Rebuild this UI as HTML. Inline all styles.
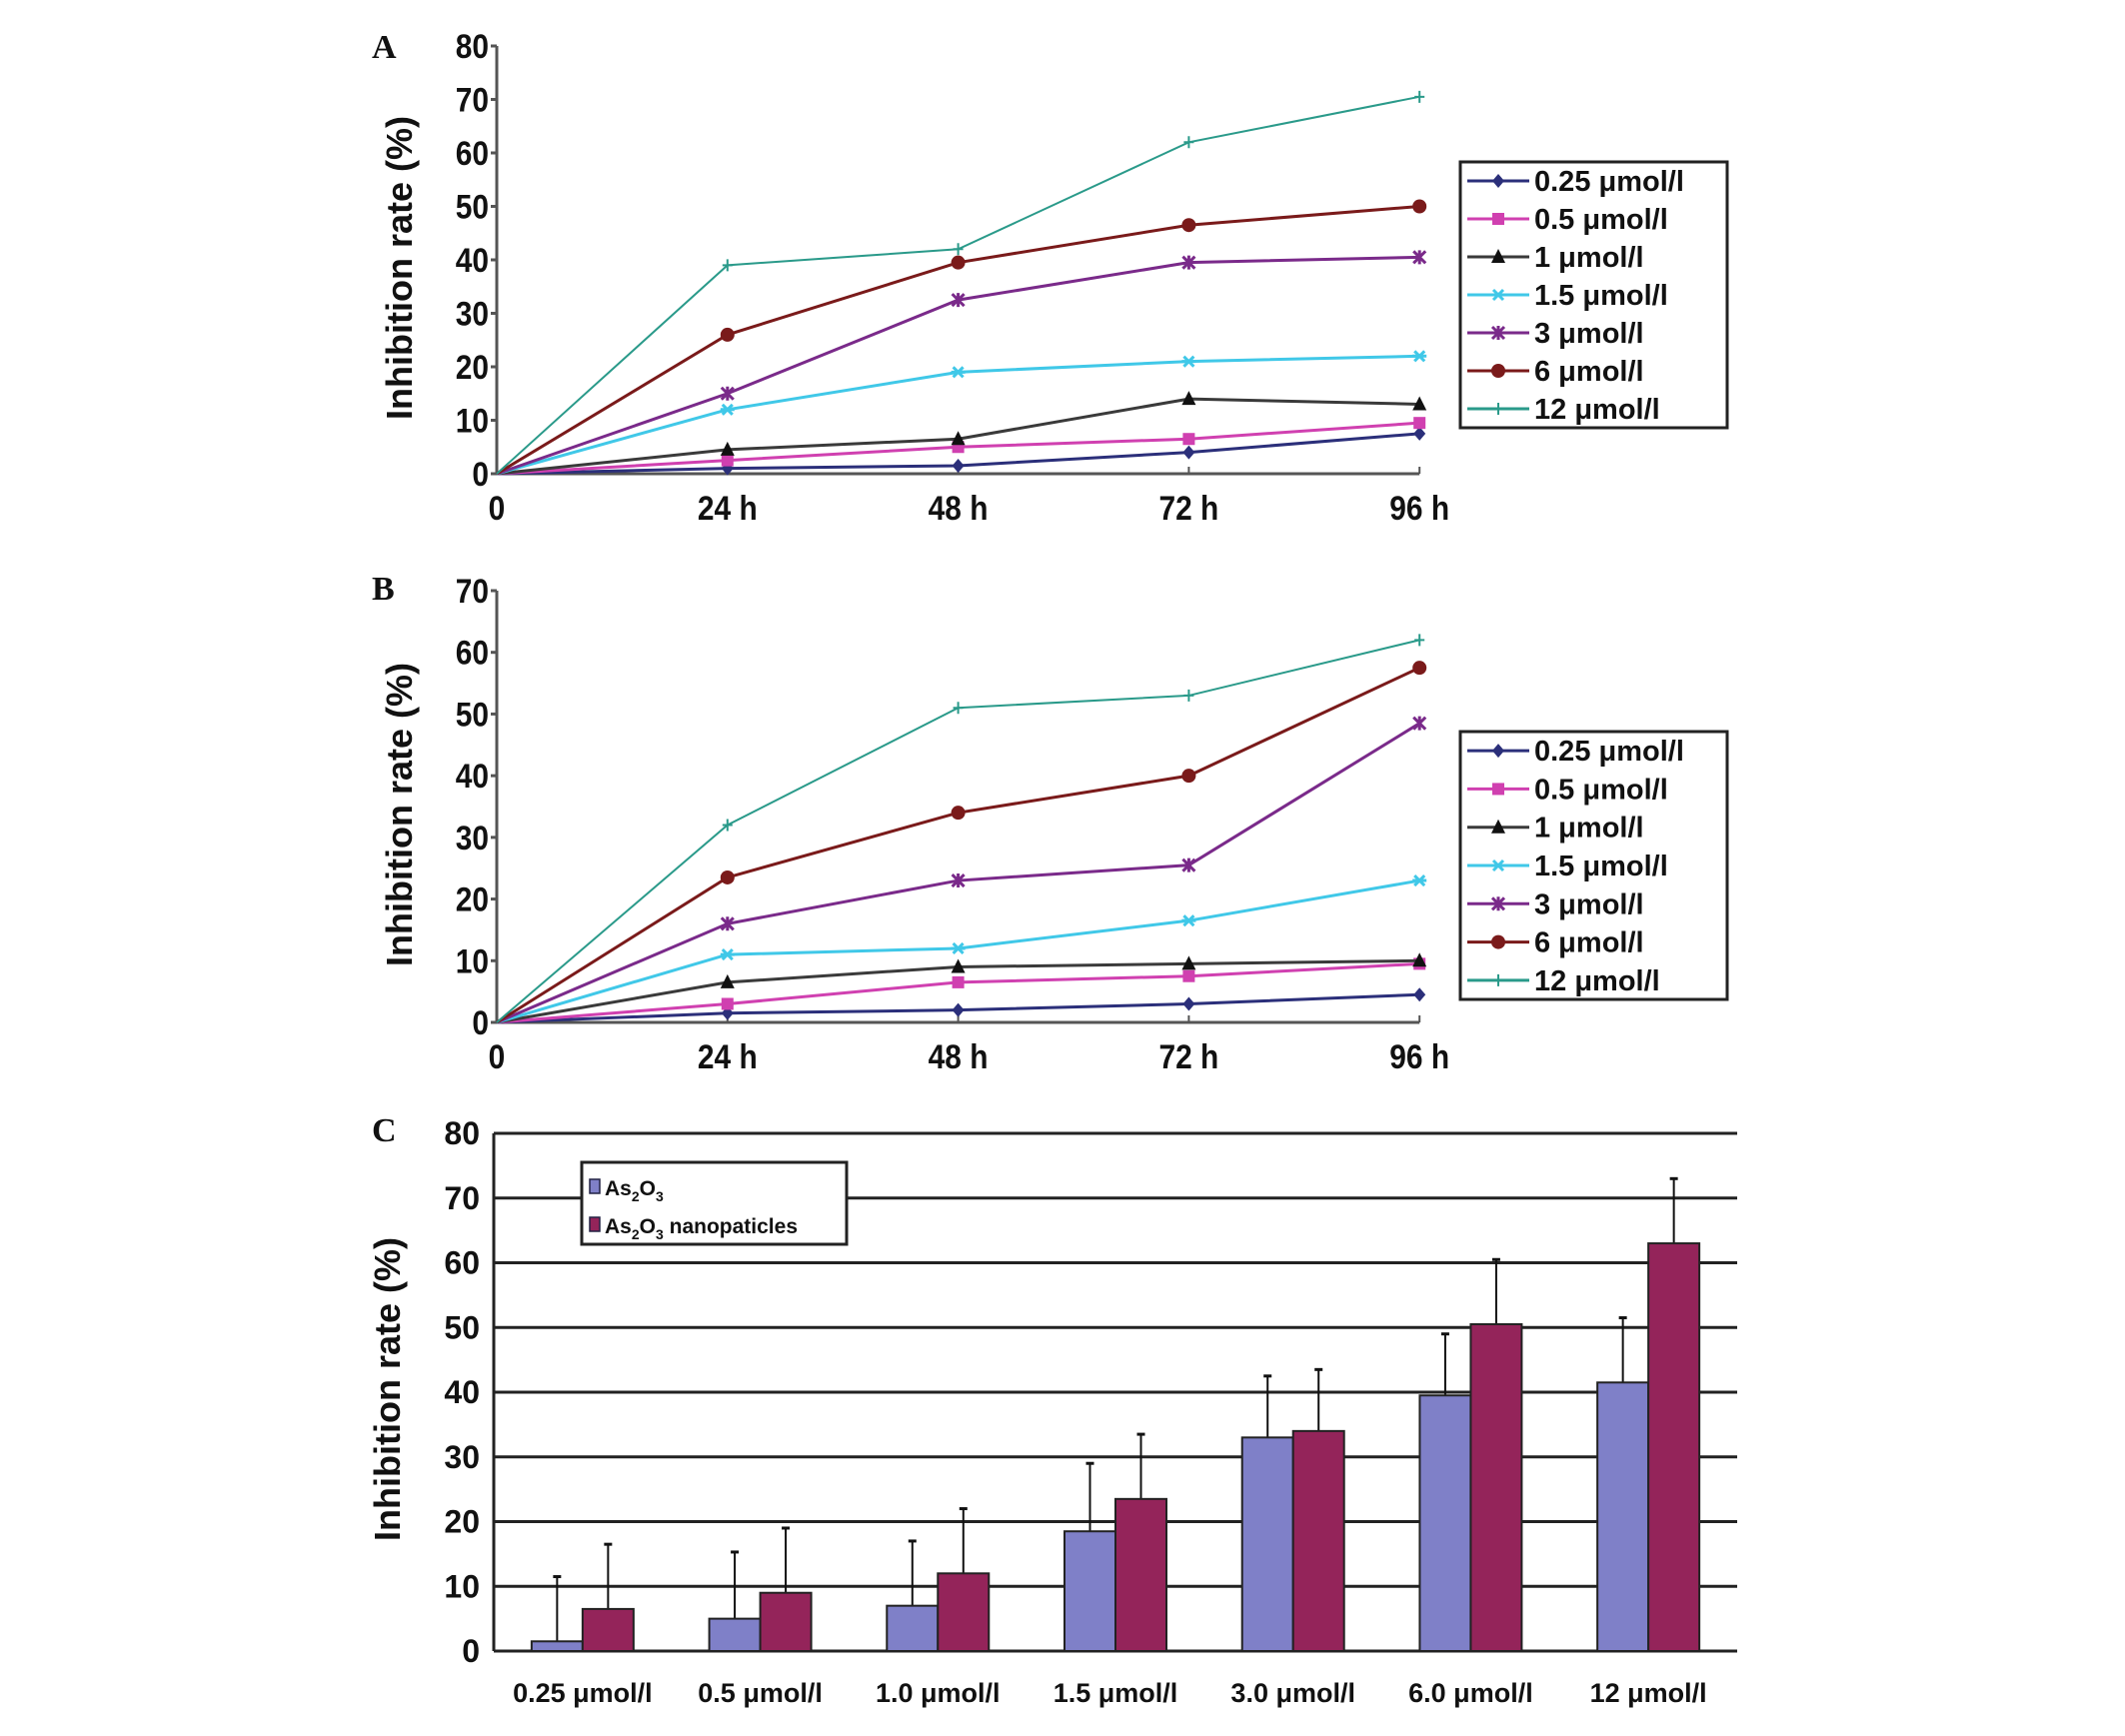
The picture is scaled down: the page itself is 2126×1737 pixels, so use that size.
<!DOCTYPE html>
<html><head><meta charset="utf-8"><style>
html,body{margin:0;padding:0;background:#fff;}
svg{display:block;}
text{font-family:"Liberation Sans",Arial,sans-serif;font-weight:bold;fill:#111;}
.pl{font-family:"Liberation Serif",serif;font-size:34px;}
</style></head><body>
<svg id="svg" width="2126" height="1737" viewBox="0 0 2126 1737" xmlns="http://www.w3.org/2000/svg">
<text class="pl" x="372" y="58">A</text>
<text class="pl" x="372" y="600">B</text>
<text class="pl" x="372" y="1142">C</text>
<g id="gA"></g>
<g id="gB"></g>
<g id="gC"></g>
</svg>
<script>
const timeLabels = ["0","24 h","48 h","72 h","96 h"];
const seriesNames = ["0.25 μmol/l","0.5 μmol/l","1 μmol/l","1.5 μmol/l","3 μmol/l","6 μmol/l","12 μmol/l"];
const seriesA_025 = [0,1,1.5,4,7.5];
const seriesA_05 = [0,2.5,5,6.5,9.5];
const seriesA_1 = [0,4.5,6.5,14,13];
const seriesA_15 = [0,12,19,21,22];
const seriesA_3 = [0,15,32.5,39.5,40.5];
const seriesA_6 = [0,26,39.5,46.5,50];
const seriesA_12 = [0,39,42,62,70.5];
const seriesB_025 = [0,1.5,2,3,4.5];
const seriesB_05 = [0,3,6.5,7.5,9.5];
const seriesB_1 = [0,6.5,9,9.5,10];
const seriesB_15 = [0,11,12,16.5,23];
const seriesB_3 = [0,16,23,25.5,48.5];
const seriesB_6 = [0,23.5,34,40,57.5];
const seriesB_12 = [0,32,51,53,62];
const ticksA = [0,10,20,30,40,50,60,70,80];
const ticksB = [0,10,20,30,40,50,60,70];
const doseLabels = ["0.25 μmol/l","0.5  μmol/l","1.0 μmol/l","1.5 μmol/l","3.0 μmol/l","6.0  μmol/l","12  μmol/l"];
const as2o3Values = [1.5,5,7,18.5,33,39.5,41.5];
const as2o3ErrTop = [11.5,15.3,17,29,42.5,49,51.5];
const nanoValues = [6.5,9,12,23.5,34,50.5,63];
const nanoErrTop = [16.5,19,22,33.5,43.5,60.5,73];
const ticksC = [0,10,20,30,40,50,60,70,80];

const NS="http://www.w3.org/2000/svg";
function mk(tag,attrs,parent,txt){const e=document.createElementNS(NS,tag);for(const k in attrs)e.setAttribute(k,attrs[k]);if(txt!==undefined)e.textContent=txt;parent.appendChild(e);return e;}
const colors=["#2b2f7a","#d040b0","#3a3a3a","#40c8e8","#7a2a8a","#7a1a1a","#2a9a8a"];
const markers=["diamond","square","triangle","star","x","circle","plus"];

function marker(g,type,x,y,c){
  let e;
  if(type==="diamond"){e=mk('polygon',{points:`${x},${y-7} ${x+6},${y} ${x},${y+7} ${x-6},${y}`,fill:c},g);}
  else if(type==="square"){e=mk('rect',{x:x-6,y:y-6,width:12,height:12,fill:c},g);}
  else if(type==="triangle"){e=mk('polygon',{points:`${x},${y-8} ${x+7},${y+6} ${x-7},${y+6}`,fill:'#111'},g);}
  else if(type==="star"){e=mk('path',{d:`M${x-7} ${y}H${x+7}M${x-5} ${y-5}L${x+5} ${y+5}M${x-5} ${y+5}L${x+5} ${y-5}`,stroke:c,'stroke-width':3},g);}
  else if(type==="x"){e=mk('path',{d:`M${x-6} ${y-6}L${x+6} ${y+6}M${x-6} ${y+6}L${x+6} ${y-6}M${x} ${y-7}V${y+7}`,stroke:c,'stroke-width':3},g);}
  else if(type==="circle"){e=mk('circle',{cx:x,cy:y,r:7,fill:c},g);}
  else {e=mk('path',{d:`M${x-5} ${y}H${x+5}M${x} ${y-6}V${y+6}`,stroke:c,'stroke-width':2},g);}
  
  
}

function linePanel(gid,series,ticks,ymax,y0,yTop,legTop,legBot){
  const g=document.getElementById(gid);
  const x0=497,dx=230.8;
  const X=i=>x0+i*dx;
  const Y=v=>y0-(v/ymax)*(y0-yTop);
  const yt=mk('text',{x:0,y:0,'font-size':36,'text-anchor':'middle',transform:`translate(412,${(y0+yTop)/2+8}) rotate(-90)`},g,"Inhibition rate (%)");
  
  const ax=mk('path',{d:`M${x0} ${yTop}V${y0}H${X(4)}`,stroke:'#555',fill:'none','stroke-width':3},g);
  
  ticks.forEach(t=>{
    mk('line',{x1:x0-6,x2:x0,y1:Y(t),y2:Y(t),stroke:'#555','stroke-width':3},g);
    const tl=mk('text',{x:x0-8,y:Y(t)+12,'font-size':34,'text-anchor':'end',transform:`translate(${(x0-8)*0.12},0) scale(0.88,1)`},g,String(t));
    
  });
  timeLabels.forEach((l,i)=>{
    mk('line',{x1:X(i),x2:X(i),y1:y0,y2:y0-7,stroke:'#555','stroke-width':2},g);
    const xl=mk('text',{x:X(i),y:y0+46,'font-size':34,'text-anchor':'middle',transform:`translate(${X(i)*0.12},0) scale(0.88,1)`},g,l);
    
  });
  series.forEach((s,k)=>{
    const p=mk('polyline',{points:s.map((v,i)=>`${X(i)},${Y(v)}`).join(' '),fill:'none',stroke:colors[k],'stroke-width':k===6?2:3},g);
    
    s.forEach((v,i)=>{if(i>0)marker(g,markers[k],X(i),Y(v),colors[k]);});
  });
  const lb=mk('rect',{x:1461,y:legTop,width:267,height:legBot-legTop,fill:'#fff',stroke:'#222','stroke-width':3},g);
  
  const sp=(legBot-legTop)/7;
  seriesNames.forEach((n,k)=>{
    const yy=legTop+sp*(k+0.5);
    mk('line',{x1:1468,x2:1530,y1:yy,y2:yy,stroke:colors[k],'stroke-width':3},g);
    marker(g,markers[k],1499,yy,colors[k]);
    const t=mk('text',{x:1535,y:yy+10,'font-size':29},g,n);
    
  });
}
linePanel('gA',[seriesA_025,seriesA_05,seriesA_1,seriesA_15,seriesA_3,seriesA_6,seriesA_12],ticksA,80,474,46,162,428);
linePanel('gB',[seriesB_025,seriesB_05,seriesB_1,seriesB_15,seriesB_3,seriesB_6,seriesB_12],ticksB,70,1023,591,732,1000);

(function(){
  const g=document.getElementById('gC');
  const x0=494,x1=1738,y0=1652,yTop=1134;
  const Y=v=>y0-(v/80)*(y0-yTop);
  const gw=(x1-x0)/7,bw=51;
  const yt=mk('text',{x:0,y:0,'font-size':36,'text-anchor':'middle',transform:`translate(400,1390) rotate(-90)`},g,"Inhibition rate (%)");
  
  ticksC.forEach(t=>{
    const l=mk('line',{x1:x0,x2:x1,y1:Y(t),y2:Y(t),stroke:'#222','stroke-width':3},g);
    
    const tl=mk('text',{x:480,y:Y(t)+11,'font-size':32,'text-anchor':'end'},g,String(t));
    
  });
  mk('line',{x1:x0,x2:x0,y1:yTop,y2:y0,stroke:'#222','stroke-width':3},g);
  doseLabels.forEach((l,i)=>{
    const c=x0+gw*(i+0.5);
    [[as2o3Values,as2o3ErrTop,'#7f80c8',c-bw],[nanoValues,nanoErrTop,'#94245a',c]].forEach(([vals,errs,col,bx],j)=>{
      const e=mk('line',{x1:bx+bw/2,x2:bx+bw/2,y1:Y(errs[i]),y2:Y(vals[i]),stroke:'#111','stroke-width':2},g);
      
      mk('line',{x1:bx+bw/2-4,x2:bx+bw/2+4,y1:Y(errs[i]),y2:Y(errs[i]),stroke:'#111','stroke-width':3},g);
      const r=mk('rect',{x:bx,y:Y(vals[i]),width:bw,height:y0-Y(vals[i]),fill:col,stroke:'#222','stroke-width':2},g);
      
    });
    const xl=mk('text',{x:c,y:1703,'font-size':27,'text-anchor':'middle','xml:space':'preserve'},g,l);
    
  });
  const lg=mk('rect',{x:582,y:1163,width:265,height:82,fill:'#fff',stroke:'#222','stroke-width':3},g);
  
  mk('rect',{x:590,y:1180,width:10,height:14,fill:'#7f80c8',stroke:'#224','stroke-width':1.5},g);
  mk('rect',{x:590,y:1218,width:10,height:14,fill:'#94245a',stroke:'#224','stroke-width':1.5},g);
  const t1=mk('text',{x:605,y:1196,'font-size':21},g);
  t1.innerHTML='As<tspan font-size="14" dy="6">2</tspan><tspan dy="-6">O</tspan><tspan font-size="14" dy="6">3</tspan>';
  
  const t2=mk('text',{x:605,y:1234,'font-size':21},g);
  t2.innerHTML='As<tspan font-size="14" dy="6">2</tspan><tspan dy="-6">O</tspan><tspan font-size="14" dy="6">3</tspan><tspan dy="-6"> nanopaticles</tspan>';
  
})();
</script>
</body></html>
